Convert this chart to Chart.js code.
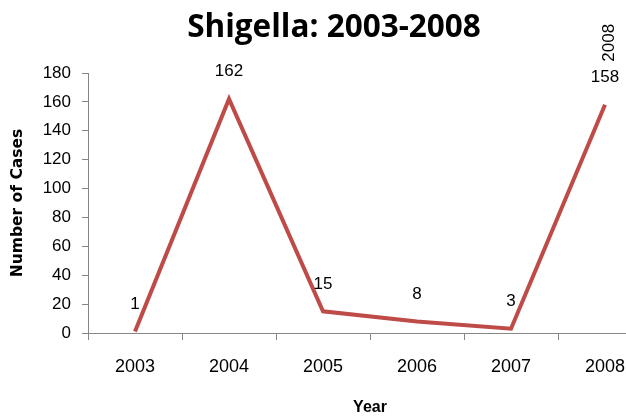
<!DOCTYPE html>
<html>
<head>
<meta charset="utf-8">
<script src="https://cdn.jsdelivr.net/npm/chart.js@4/dist/chart.umd.min.js"></script>
<style>
  html, body { margin: 0; padding: 0; background: #fff; overflow: hidden; width: 626px; height: 418px; }
  #wrap { width: 668px; height: 418px; }
</style>
</head>
<body>
<div id="wrap"><canvas id="c" width="668" height="418"></canvas></div>
<script>
const years = ['2003', '2004', '2005', '2006', '2007', '2008'];
const cases = [1, 162, 15, 8, 3, 158];
const yTicks = [0, 20, 40, 60, 80, 100, 120, 140, 160, 180];
const titleText = 'Shigella: 2003-2008';
const xTitle = 'Year';
const yTitle = 'Number of Cases';
const seriesTag = '2008';

const lineColor = '#BE4B48';
const axisColor = '#868686';

const titlePlugin = {
  id: 'customTitle',
  afterDraw(chart) {
    const ctx = chart.ctx;
    ctx.save();
    ctx.fillStyle = '#000';
    ctx.font = 'bold 31.5px "Open Sans", sans-serif';
    ctx.textAlign = 'center';
    ctx.textBaseline = 'alphabetic';
    ctx.fillText(titleText, 334, 36.5);
    ctx.restore();
  }
};

const labelPlugin = {
  id: 'pointLabels',
  afterDatasetsDraw(chart) {
    const ctx = chart.ctx;
    const meta = chart.getDatasetMeta(0);
    ctx.save();
    ctx.fillStyle = '#000';
    ctx.font = '17px "Liberation Sans", Arial, sans-serif';
    ctx.textAlign = 'center';
    ctx.textBaseline = 'middle';
    meta.data.forEach((pt, i) => {
      ctx.fillText(String(cases[i]), pt.x, pt.y - 27.5);
    });
    const last = meta.data[meta.data.length - 1];
    ctx.translate(last.x + 4, last.y - 62);
    ctx.rotate(-Math.PI / 2);
    ctx.fillText(seriesTag, 0, 0);
    ctx.restore();
  }
};

new Chart(document.getElementById('c'), {
  type: 'line',
  data: {
    labels: years,
    datasets: [{
      data: cases,
      borderColor: lineColor,
      borderWidth: 4,
      borderJoinStyle: 'miter',
      pointRadius: 0,
      pointHoverRadius: 0,
      tension: 0,
      fill: false
    }]
  },
  options: {
    responsive: false,
    animation: false,
    devicePixelRatio: 1,
    layout: { padding: { left: 0, right: 16, top: 73, bottom: 0 } },
    plugins: {
      legend: { display: false },
      tooltip: { enabled: false },
      title: { display: false }
    },
    scales: {
      x: {
        type: 'category',
        offset: true,
        grid: { display: true, drawOnChartArea: false, drawTicks: true, tickLength: 7, offset: true, color: axisColor, lineWidth: 1 },
        border: { display: true, color: axisColor, width: 1 },
        ticks: { color: '#000', font: { family: '"Liberation Sans", Arial, sans-serif', size: 18 }, padding: 16, maxRotation: 0, autoSkip: false },
        title: { display: true, text: xTitle, color: '#000', font: { family: '"Liberation Sans", Arial, sans-serif', weight: 'bold', size: 16 }, padding: { top: 0, bottom: 1 } },
        afterFit(s) { s.height = 85; }
      },
      y: {
        min: 0,
        max: 180,
        afterBuildTicks(s) { s.ticks = yTicks.map(v => ({ value: v })); },
        grid: { display: true, drawOnChartArea: false, drawTicks: true, tickLength: 6, color: axisColor, lineWidth: 1 },
        border: { display: true, color: axisColor, width: 1 },
        ticks: { color: '#000', font: { family: '"Liberation Sans", Arial, sans-serif', size: 17 }, padding: 11 },
        title: { display: true, text: yTitle, color: '#000', font: { family: '"DejaVu Sans", sans-serif', weight: 'bold', size: 15.5 }, padding: { top: 9, bottom: 0 } },
        afterFit(s) { s.width = 88; }
      }
    }
  },
  plugins: [labelPlugin, titlePlugin]
});
</script>
</body>
</html>
